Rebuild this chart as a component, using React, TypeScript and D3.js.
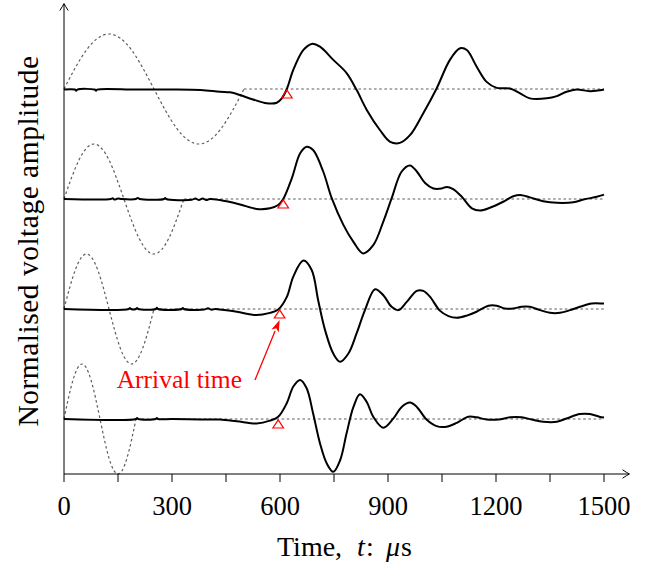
import React from 'react';
import * as d3 from 'd3';

// ---- data ----
const TIME_TICKS = [0, 150, 300, 450, 600, 750, 900, 1050, 1200, 1350, 1500];
const TIME_LABELS = [0, 300, 600, 900, 1200, 1500];
const OFFSETS = [6, 4, 2, 0];
const INPUT_PERIODS = [500, 333, 250, 200];
const SINE_SHAPE = [0, 0.71, 1, 0.71, 0, -0.71, -1, -0.71, 0];
const ARRIVAL_TIMES = [619, 609, 599, 595];

const TRACE_1: [number, number][] = [
  [0, -0.01], [30, -0.01], [34, -0.03], [37, -0.01], [85, -0.01], [89, -0.03], [92, -0.01],
  [200, -0.01], [300, -0.01], [380, -0.02], [433, -0.05], [461, -0.06], [480, -0.09], [525, -0.19],
  [563, -0.26], [591, -0.25], [605, -0.17], [619, 0], [637, 0.35], [665, 0.71], [688, 0.82],
  [711, 0.77], [748, 0.53], [785, 0.29], [813, -0.02], [841, -0.38], [878, -0.75], [906, -0.96],
  [933, -0.98], [961, -0.84], [998, -0.44], [1035, 0.01], [1072, 0.53], [1100, 0.74], [1119, 0.71],
  [1146, 0.41], [1174, 0.13], [1202, 0.02], [1239, 0.01], [1267, -0.08], [1294, -0.17],
  [1341, -0.17], [1369, -0.13], [1396, -0.05], [1424, -0.01], [1461, -0.04], [1494, -0.02], [1500, -0.01],
];

const TRACE_2: [number, number][] = [
  [0, 0], [130, 0], [135, 0.015], [140, -0.01], [150, 0.01], [160, 0], [200, 0], [205, 0.02], [210, 0],
  [278, 0], [281, 0.02], [284, 0], [355, -0.015], [365, 0.01], [375, -0.02], [385, 0.01], [395, -0.02],
  [405, 0], [433, -0.02], [489, -0.1], [535, -0.18], [572, -0.17], [595, -0.11], [609, 0], [633, 0.38],
  [656, 0.83], [674, 0.95], [692, 0.89], [720, 0.5], [744, 0.01], [776, -0.47], [804, -0.78],
  [831, -0.99], [859, -0.84], [887, -0.41], [910, 0.01], [938, 0.5], [961, 0.61], [980, 0.5],
  [1003, 0.29], [1026, 0.19], [1049, 0.19], [1063, 0.22], [1081, 0.18], [1105, 0.04], [1133, -0.17],
  [1156, -0.21], [1183, -0.16], [1220, -0.05], [1248, 0.05], [1271, 0.07], [1294, 0.03], [1331, -0.04],
  [1369, -0.07], [1415, -0.06], [1443, -0.01], [1480, 0.04], [1496, 0.07], [1500, 0.08],
];

const TRACE_3: [number, number][] = [
  [0, 0], [180, 0], [183, 0.02], [186, 0], [200, 0], [203, 0.02], [206, 0], [255, 0], [258, 0.025],
  [261, 0], [327, 0], [330, 0.02], [333, 0], [390, -0.01], [400, 0.015], [410, -0.015], [420, 0],
  [433, -0.01], [480, -0.05], [535, -0.11], [572, -0.07], [595, -0.01], [619, 0.22], [637, 0.59],
  [665, 0.88], [688, 0.71], [706, 0.16], [725, -0.38], [748, -0.81], [767, -0.96], [790, -0.81],
  [813, -0.44], [836, -0.02], [864, 0.36], [887, 0.25], [910, 0.04], [929, -0.02], [952, 0.13],
  [980, 0.33], [998, 0.33], [1017, 0.22], [1044, -0.03], [1068, -0.13], [1091, -0.16], [1119, -0.12],
  [1146, -0.05], [1179, 0.06], [1202, 0.06], [1225, 0.01], [1248, 0.01], [1271, 0.04], [1294, 0.04],
  [1322, -0.02], [1350, -0.07], [1378, -0.07], [1406, -0.02], [1433, 0.04], [1466, 0.1], [1496, 0.1], [1500, 0.1],
];

const TRACE_4: [number, number][] = [
  [0, 0], [200, 0], [203, 0.02], [206, 0], [255, 0], [258, 0.02], [261, 0], [300, 0], [380, -0.01],
  [433, -0.01], [480, -0.04], [535, -0.08], [572, -0.03], [595, 0.04], [619, 0.29], [637, 0.59],
  [656, 0.71], [674, 0.56], [692, 0.1], [711, -0.44], [730, -0.81], [748, -0.96], [767, -0.75],
  [785, -0.26], [804, 0.22], [822, 0.45], [841, 0.31], [859, 0.04], [887, -0.16], [915, 0.01],
  [938, 0.22], [961, 0.3], [980, 0.22], [1007, -0.01], [1035, -0.13], [1063, -0.14], [1091, -0.07],
  [1123, 0.04], [1146, 0.03], [1174, -0.01], [1207, -0.01], [1239, 0.03], [1271, 0.03], [1299, -0.01],
  [1331, -0.05], [1369, -0.05], [1396, 0.01], [1433, 0.09], [1461, 0.09], [1494, 0.03], [1500, 0.03],
];

const TRACES = [TRACE_1, TRACE_2, TRACE_3, TRACE_4];

const FONT = 'Liberation Serif';
const RED = '#ff0000';
const GREY = '#5e5e5e';

export default function App() {
  const W = 646;
  const H = 564;
  const x = d3.scaleLinear().domain([0, 1500]).range([64, 604]);
  const y = d3.scaleLinear().domain([-1, 7.5]).range([474, 6.5]);
  const axisY = 474;

  const traceLine = d3
    .line<[number, number]>()
    .x((d) => x(d[0]))
    .y((d) => y(d[1]))
    .curve(d3.curveCatmullRom.alpha(0.5));

  const sineLine = d3
    .line<[number, number]>()
    .x((d) => x(d[0]))
    .y((d) => y(d[1]))
    .curve(d3.curveNatural);

  const straight = d3
    .line<[number, number]>()
    .x((d) => x(d[0]))
    .y((d) => y(d[1]));

  // annotation arrow
  const tip: [number, number] = [x(ARRIVAL_TIMES[2]), y(OFFSETS[2]) + 11];
  const tail: [number, number] = [255, 380];
  const ang = Math.atan2(tip[1] - tail[1], tip[0] - tail[0]);
  const headLen = 12;
  const headW = 4;
  const base: [number, number] = [tip[0] - headLen * Math.cos(ang), tip[1] - headLen * Math.sin(ang)];
  const perp = [-Math.sin(ang), Math.cos(ang)];
  const head = [
    tip,
    [base[0] + perp[0] * headW, base[1] + perp[1] * headW],
    [base[0] + headLen * 0.25 * Math.cos(ang), base[1] + headLen * 0.25 * Math.sin(ang)],
    [base[0] - perp[0] * headW, base[1] - perp[1] * headW],
  ];

  const axisArrow = 'M -7 -4.2 Q -2.5 -1.2 0 0 Q -2.5 1.2 -7 4.2';
  const textStyle = { fontFamily: FONT };

  return (
    <svg
      width={W}
      height={H}
      style={{ position: 'absolute', left: 0, top: 0, background: '#fff', fontFamily: FONT }}
    >
      {/* input signals (dashed) */}
      {OFFSETS.map((off, i) => {
        const P = INPUT_PERIODS[i];
        const pts: [number, number][] = SINE_SHAPE.map((v, k) => [(P * k) / (SINE_SHAPE.length - 1), off + v]);
        const flat: [number, number][] = [[P, off], [1500, off]];
        return (
          <g key={'in' + i} fill="none" stroke={GREY} strokeWidth={1.2} strokeDasharray="2.6,2.6">
            <path d={sineLine(pts) || ''} />
            <path d={straight(flat) || ''} />
          </g>
        );
      })}

      {/* received signals */}
      {TRACES.map((tr, i) => (
        <path
          key={'tr' + i}
          d={traceLine(tr.map((d) => [d[0], OFFSETS[i] + d[1]] as [number, number])) || ''}
          fill="none"
          stroke="#000"
          strokeWidth={2}
          strokeLinejoin="round"
        />
      ))}

      {/* arrival markers */}
      {ARRIVAL_TIMES.map((t, i) => {
        const cx = x(t);
        const by = y(OFFSETS[i]);
        return (
          <path
            key={'m' + i}
            d={`M ${cx} ${by + 0.8} L ${cx + 5.3} ${by + 9} L ${cx - 5.3} ${by + 9} Z`}
            fill="none"
            stroke={RED}
            strokeWidth={1.2}
          />
        );
      })}

      {/* annotation */}
      <line x1={tail[0]} y1={tail[1]} x2={base[0]} y2={base[1]} stroke={RED} strokeWidth={1.3} />
      <polygon points={head.map((p) => p.join(',')).join(' ')} fill={RED} />
      <text x={116.7} y={388.3} fontSize={25.5} fill={RED} style={textStyle}>
        Arrival time
      </text>

      {/* axes */}
      <g stroke="#000" strokeWidth={1} fill="none">
        <line x1={x(0)} y1={axisY} x2={629} y2={axisY} />
        <line x1={x(0)} y1={axisY} x2={x(0)} y2={4} />
        <path d={axisArrow} transform={`translate(629.5,${axisY})`} />
        <path d={axisArrow} transform={`translate(${x(0)},3.5) rotate(-90)`} />
        {TIME_TICKS.map((t) => (
          <line key={'t' + t} x1={x(t)} x2={x(t)} y1={axisY} y2={axisY + 8} />
        ))}
      </g>
      {TIME_LABELS.map((t) => (
        <text key={'l' + t} x={x(t)} y={515} fontSize={26.5} textAnchor="middle" fill="#000" style={textStyle}>
          {t}
        </text>
      ))}
      <text y={556} fontSize={28} fill="#000" style={textStyle}>
        <tspan x={277}>Time,</tspan>
        <tspan x={357} fontStyle="italic">t</tspan>
        <tspan x={366}>:</tspan>
        <tspan x={386} fontStyle="italic">μ</tspan>
        <tspan x={401}>s</tspan>
      </text>
      <text
        transform="translate(38,241) rotate(-90)"
        fontSize={29.5}
        textAnchor="middle"
        fill="#000"
        letterSpacing={0.5}
        style={textStyle}
      >
        Normalised voltage amplitude
      </text>
    </svg>
  );
}
